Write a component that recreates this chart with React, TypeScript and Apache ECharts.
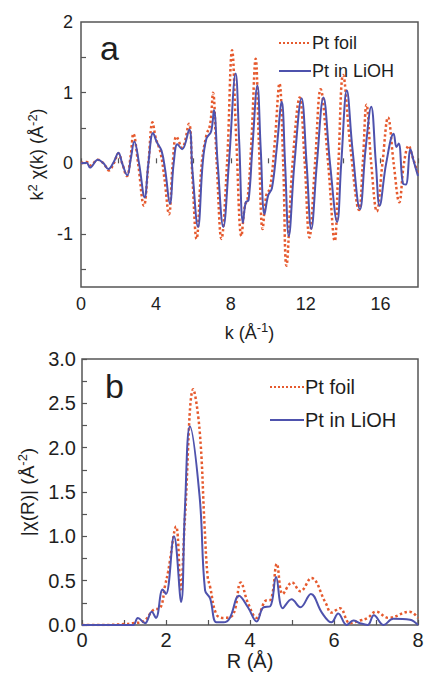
import React, { useEffect, useRef } from "react";
import * as echarts from "echarts";

// Panel a: k^2 chi(k)
const foilK = [0, 0.3, 0.5, 0.9, 1.2, 1.5, 1.75, 2.0, 2.2, 2.45, 2.65, 2.8, 3.05, 3.36, 3.6, 3.82, 4.0, 4.25, 4.45, 4.7, 4.9, 5.1, 5.4, 5.76, 5.95, 6.17, 6.45, 6.7, 6.9, 7.05, 7.25, 7.5, 7.8, 8.07, 8.3, 8.57, 8.75, 8.9, 9.1, 9.33, 9.5, 9.7, 9.9, 10.1, 10.35, 10.6, 10.8, 10.97, 11.3, 11.68, 11.95, 12.2, 12.5, 12.8, 13.2, 13.55, 13.75, 14.0, 14.4, 14.85, 15.05, 15.25, 15.5, 15.8, 16.1, 16.4, 16.7, 17.0, 17.25, 17.5, 17.7, 18];
const foilChi = [0, 0.02, -0.03, 0.05, 0, -0.1, 0, 0.14, 0, -0.18, 0.1, 0.42, 0, -0.6, 0, 0.58, 0.35, 0.15, -0.2, -0.72, 0, 0.38, 0.22, 0.56, -0.2, -1.07, 0, 0.4, 0.55, 1.0, 0, -1.07, 0, 1.6, 0.3, -1.03, -0.6, -0.5, 0.3, 1.48, 0.3, -0.93, -0.45, -0.35, 0.3, 1.13, 0, -1.45, 0, 0.93, 0, -1.05, 0, 1.05, 0, -1.1, 0, 1.25, 0.2, -0.66, 0, 0.83, 0, -0.68, 0, 0.65, 0, -0.55, 0, 0.25, 0.1, -0.15];
const liohK = [0, 0.3, 0.48, 0.9, 1.2, 1.46, 1.75, 2.0, 2.2, 2.47, 2.65, 2.85, 3.1, 3.4, 3.6, 3.85, 4.05, 4.3, 4.5, 4.75, 4.95, 5.15, 5.4, 5.78, 5.95, 6.25, 6.5, 6.7, 6.95, 7.1, 7.3, 7.6, 7.9, 8.26, 8.45, 8.65, 8.8, 8.95, 9.15, 9.42, 9.6, 9.8, 10.0, 10.2, 10.45, 10.72, 10.9, 11.1, 11.4, 11.78, 12.05, 12.3, 12.6, 12.95, 13.3, 13.68, 13.9, 14.2, 14.5, 14.9, 15.2, 15.5, 15.75, 15.95, 16.3, 16.7, 16.85, 16.97, 17.2, 17.35, 17.6, 17.75, 18];
const liohChi = [0, 0.01, -0.06, 0.05, 0, -0.08, 0.02, 0.15, 0, -0.17, 0.05, 0.31, 0, -0.48, 0, 0.43, 0.3, 0.18, -0.1, -0.57, 0, 0.27, 0.2, 0.48, -0.1, -0.9, 0, 0.35, 0.45, 0.75, 0, -0.9, 0, 1.27, 0.3, -0.84, -0.55, -0.52, 0.2, 1.1, 0.2, -0.72, -0.45, -0.35, 0.2, 0.87, 0, -1.03, 0, 0.92, 0, -0.93, 0, 0.93, 0, -0.83, 0, 1.03, 0.2, -0.65, 0.2, 0.8, 0, -0.6, 0, 0.42, 0.23, 0.28, -0.29, -0.3, 0.2, 0.05, -0.18];

// Panel b: |chi(R)|
const foilR = [0, 0.5, 1.0, 1.2, 1.46, 1.7, 1.86, 1.98, 2.05, 2.24, 2.35, 2.45, 2.65, 2.8, 2.92, 2.99, 3.05, 3.2, 3.37, 3.6, 3.78, 3.95, 4.16, 4.36, 4.5, 4.64, 4.78, 5.0, 5.2, 5.46, 5.8, 5.94, 6.14, 6.38, 6.62, 6.8, 7.0, 7.3, 7.8, 8.0];
const foilMag = [0, 0, 0.01, 0.02, 0.04, 0.17, 0.19, 0.45, 0.6, 1.11, 0.4, 1.2, 2.66, 2.2, 1.1, 0.55, 0.43, 0.12, 0.08, 0.12, 0.48, 0.25, 0.08, 0.27, 0.29, 0.69, 0.35, 0.48, 0.38, 0.53, 0.25, 0.14, 0.19, 0.02, 0.05, 0.08, 0.15, 0.08, 0.15, 0.08];
const liohR = [0, 0.5, 1.0, 1.22, 1.33, 1.5, 1.66, 1.76, 1.92, 2.0, 2.19, 2.36, 2.45, 2.57, 2.8, 2.93, 3.05, 3.2, 3.37, 3.52, 3.74, 3.95, 4.16, 4.32, 4.48, 4.62, 4.78, 4.99, 5.2, 5.45, 5.71, 5.94, 6.1, 6.3, 6.46, 6.62, 6.8, 6.95, 7.18, 7.41, 7.81, 8.0];
const liohMag = [0, 0, 0, 0, 0.08, 0.02, 0.15, 0.08, 0.4, 0.35, 1.0, 0.26, 1.3, 2.24, 1.45, 0.39, 0.3, 0.03, 0.03, 0.08, 0.33, 0.2, 0.04, 0.2, 0.21, 0.54, 0.19, 0.29, 0.2, 0.35, 0.14, 0.03, 0.13, 0.0, 0.05, 0.02, 0.0, 0.11, 0.0, 0.07, 0.06, 0.0];

const kTicks = [-1.5, -1, -0.5, 0, 0.5, 1, 1.5];
const kLabels = [-1, 0, 1, 2];
const legendNames = ["Pt foil", "Pt in LiOH"];

const RED = "#e65a2e";
const BLUE = "#4e52ad";
const FONT = "'Liberation Sans', Arial, sans-serif";
const AXC = "#555";
const TXT = "#1e1e1e";

const pairs = (xs: number[], ys: number[]) => xs.map((x, i) => [x, ys[i]]);

export default function App() {
  const ref = useRef<HTMLDivElement>(null);
  useEffect(() => {
    if (!ref.current) return;
    const chart = echarts.init(ref.current, null, { renderer: "svg" });
    const supRich = (size: number) => ({
      sup: { fontSize: Math.round(size * 0.7), verticalAlign: "bottom", padding: [0, 0, Math.round(size * 0.55), 0], fontFamily: FONT, color: TXT },
    });
    const lineSeries = (name: string, idx: number, data: number[][], color: string, dotted: boolean) => ({
      name, type: "line", xAxisIndex: idx, yAxisIndex: idx, data,
      symbol: "none", showSymbol: false, smooth: 0.4,
      lineStyle: { color, width: dotted ? 2.5 : 2, type: dotted ? "dotted" : "solid" },
      itemStyle: { color },
    });
    const option: any = {
      animation: false,
      backgroundColor: "#fff",
      textStyle: { fontFamily: FONT },
      grid: [
        { left: 81, top: 22, width: 337, height: 265, show: true, borderColor: AXC, borderWidth: 1.5, backgroundColor: "transparent" },
        { left: 82, top: 359, width: 336, height: 266, show: true, borderColor: AXC, borderWidth: 1.5, backgroundColor: "transparent" },
      ],
      xAxis: [
        {
          type: "value", gridIndex: 0, min: 0, max: 18, interval: 2,
          axisLine: { show: false }, splitLine: { show: false },
          axisTick: { inside: true, length: 5, lineStyle: { color: AXC, width: 1.2 } },
          axisLabel: { fontSize: 18, color: TXT, margin: 8, fontFamily: FONT, formatter: (v: number) => (v % 4 === 0 && v < 18 ? String(v) : "") },
          name: "k (Å{sup|-1})", nameLocation: "middle", nameGap: 34,
          nameTextStyle: { fontSize: 18, color: TXT, fontFamily: FONT, rich: supRich(18) },
        },
        {
          type: "value", gridIndex: 1, min: 0, max: 8, interval: 1,
          axisLine: { show: false }, splitLine: { show: false },
          axisTick: { inside: true, length: 5, lineStyle: { color: AXC, width: 1.2 } },
          axisLabel: { fontSize: 20, color: TXT, margin: 5, fontFamily: FONT, formatter: (v: number) => (v % 2 === 0 ? String(v) : "") },
          name: "R (Å)", nameLocation: "middle", nameGap: 24,
          nameTextStyle: { fontSize: 20, color: TXT, fontFamily: FONT },
        },
      ],
      yAxis: [
        {
          type: "value", gridIndex: 0, min: -1.75, max: 2,
          axisLine: { show: false }, splitLine: { show: false },
          axisTick: { inside: true, length: 5, customValues: kTicks, lineStyle: { color: AXC, width: 1.2 } },
          axisLabel: { fontSize: 18, color: TXT, margin: 8, fontFamily: FONT, customValues: kLabels },
          name: "k{sup|2} χ(k) (Å{sup|-2})", nameLocation: "middle", nameGap: 28,
          nameTextStyle: { fontSize: 18, color: TXT, fontFamily: FONT, rich: supRich(18) },
        },
        {
          type: "value", gridIndex: 1, min: 0, max: 3, interval: 0.25,
          axisLine: { show: false }, splitLine: { show: false },
          axisTick: { inside: true, length: 5, lineStyle: { color: AXC, width: 1.2 } },
          axisLabel: { fontSize: 20, color: TXT, margin: 6, fontFamily: FONT, formatter: (v: number) => (Math.abs(v * 2 - Math.round(v * 2)) < 1e-6 ? v.toFixed(1) : "") },
          name: "|χ(R)| (Å{sup|-2})", nameLocation: "middle", nameGap: 42,
          nameTextStyle: { fontSize: 19, color: TXT, fontFamily: FONT, rich: supRich(19) },
        },
      ],
      legend: [
        {
          data: legendNames, orient: "vertical", left: 273, top: 29, itemWidth: 32, itemHeight: 14, itemGap: 10,
          itemStyle: { opacity: 0 },
          textStyle: { fontSize: 18, color: TXT, fontFamily: FONT, padding: [0, 0, 0, -4] },
        },
        {
          data: legendNames, orient: "vertical", left: 264, top: 372, itemWidth: 34, itemHeight: 16, itemGap: 13,
          itemStyle: { opacity: 0 },
          textStyle: { fontSize: 20, color: TXT, fontFamily: FONT, padding: [0, 0, 0, -4] },
        },
      ],
      graphic: [
        { type: "text", left: 100, top: 31, style: { text: "a", fontSize: 34, fill: TXT, fontFamily: FONT } },
        { type: "text", left: 105, top: 369, style: { text: "b", fontSize: 34, fill: TXT, fontFamily: FONT } },
      ],
      series: [
        lineSeries("Pt foil", 0, pairs(foilK, foilChi), RED, true),
        lineSeries("Pt in LiOH", 0, pairs(liohK, liohChi), BLUE, false),
        lineSeries("Pt foil", 1, pairs(foilR, foilMag), RED, true),
        lineSeries("Pt in LiOH", 1, pairs(liohR, liohMag), BLUE, false),
      ],
    };
    chart.setOption(option);
    return () => chart.dispose();
  }, []);
  return <div ref={ref} style={{ position: "fixed", left: 0, top: 0, width: 427, height: 679 }} />;
}
